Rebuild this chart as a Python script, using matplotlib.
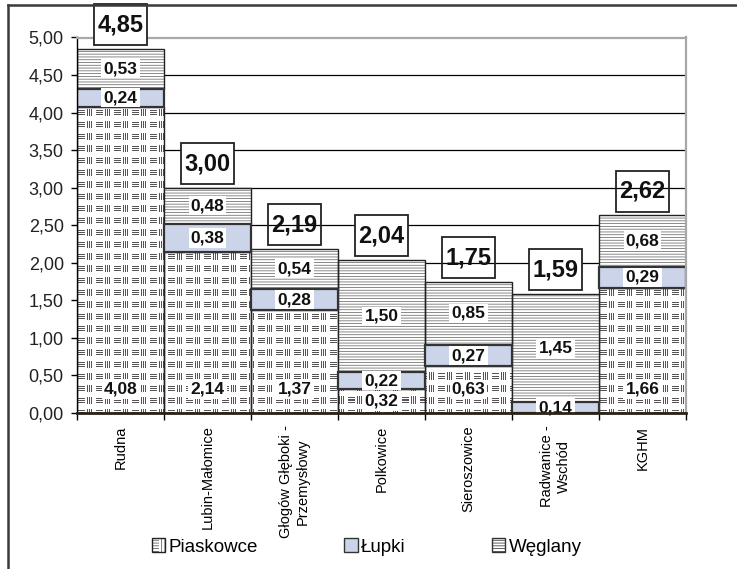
import numpy as np
import matplotlib
matplotlib.use("Agg")
import matplotlib.pyplot as plt
from matplotlib.colors import ListedColormap
from matplotlib.patches import Patch, Rectangle
from matplotlib.lines import Line2D
from matplotlib.legend_handler import HandlerBase
from matplotlib.ticker import FuncFormatter, MultipleLocator

plt.rcParams['font.family'] = ['Liberation Sans', 'DejaVu Sans']
plt.rcParams['hatch.linewidth'] = 0.55

categories = ["Rudna", "Lubin-Małomice", "Głogów Głęboki -\nPrzemysłowy", "Polkowice",
              "Sieroszowice", "Radwanice -\nWschód", "KGHM"]
piaskowce = [4.08, 2.14, 1.37, 0.32, 0.63, 0.00, 1.66]
lupki = [0.24, 0.38, 0.28, 0.22, 0.27, 0.14, 0.29]
weglany = [0.53, 0.48, 0.54, 1.50, 0.85, 1.45, 0.68]
totals = [4.85, 3.00, 2.19, 2.04, 1.75, 1.59, 2.62]
series_names = ["Piaskowce", "Łupki", "Węglany"]

LUPKI_COLOR = "#ccd4ea"
PATTERN_COLOR = "#555555"
# total-value boxes that are opaque (the rest let gridlines show through)
total_box_opaque = [True, True, False, True, False, True, False]


def fmt(v):
    return f"{v:.2f}".replace(".", ",")


W, H = 737, 569
fig = plt.figure(figsize=(W / 100, H / 100), dpi=100)
ax = fig.add_axes([77 / W, (H - 413) / H, 609 / W, 375.5 / H])

n = len(categories)
x = np.arange(n)
ax.set_xlim(-0.5, n - 0.5)
ax.set_ylim(0, 5)

# pixel -> data unit conversion for the axes
bb = ax.get_window_extent()
px_x = n / bb.width
px_y = 5.0 / bb.height

# outer frame of the drawing
fig.add_artist(Line2D([8 / W, 8 / W], [0, 1 - 5 / H], color="#3a3a3a", lw=1.8))
fig.add_artist(Line2D([8 / W, 1], [1 - 5 / H, 1 - 5 / H], color="#3a3a3a", lw=1.8))

# gridlines
for gy in np.arange(0.5, 5.0, 0.5):
    ax.axhline(gy, color="black", lw=0.9, zorder=0.5)

# sandstone weave texture, one texel per output pixel
tw, th = int(round(bb.width)), int(round(bb.height))
tile = np.zeros((12, 18))
tile[[1, 3, 5], 1:8] = 1
tile[0:7, [10, 12, 14]] = 1
texture = np.tile(tile, (th // tile.shape[0] + 1, tw // tile.shape[1] + 1))[:th, :tw]
cmap = ListedColormap(["white", PATTERN_COLOR])

bars_p = ax.bar(x, piaskowce, width=1.0, color="white", edgecolor="none", zorder=2)
for rect in bars_p:
    im = ax.imshow(texture, cmap=cmap, vmin=0, vmax=1, interpolation="nearest",
                   extent=(-0.5, n - 0.5, 0, 5), origin="upper",
                   aspect="auto", zorder=2.1)
    im.set_clip_path(rect)
ax.bar(x, piaskowce, width=1.0, fill=False, edgecolor="#222222", lw=1.0, zorder=2.2)
ax.set_xlim(-0.5, n - 0.5)
ax.set_ylim(0, 5)

bottom_l = np.array(piaskowce)
ax.bar(x, lupki, width=1.0, bottom=bottom_l, color=LUPKI_COLOR, edgecolor="#333333",
       lw=1.6, zorder=2.3)
bottom_w = bottom_l + np.array(lupki)
ax.bar(x, weglany, width=1.0, bottom=bottom_w, color="white", edgecolor="#6a6a6a",
       hatch="------", lw=0, zorder=2.2)
ax.bar(x, weglany, width=1.0, bottom=bottom_w, fill=False, edgecolor="#222222",
       lw=1.0, zorder=2.25)

label_kw = dict(ha="center", va="center", fontsize=12.5, fontweight="bold", zorder=4,
                color="#111111",
                bbox=dict(boxstyle="square,pad=0.12", fc="white", ec="none"))
for i in range(n):
    if piaskowce[i] > 0:
        ax.text(x[i], min(piaskowce[i] / 2, 0.32), fmt(piaskowce[i]), **label_kw)
    ax.text(x[i], bottom_l[i] + lupki[i] / 2, fmt(lupki[i]), **label_kw)
    ax.text(x[i], bottom_w[i] + weglany[i] / 2, fmt(weglany[i]), **label_kw)

    # boxed total above each bar
    top = bottom_w[i] + weglany[i]
    bw, bh, gap = 53 * px_x, 41 * px_y, 3.5 * px_y
    box = Rectangle((x[i] - bw / 2, top + gap), bw, bh,
                    fc="white" if total_box_opaque[i] else "none",
                    ec="#222222", lw=1.3, zorder=4.5, clip_on=False)
    ax.add_patch(box)
    ax.text(x[i], top + gap + bh / 2, fmt(totals[i]), ha="center", va="center",
            fontsize=17, fontweight="bold", color="#111111", zorder=5, clip_on=False)

# axes styling
ax.yaxis.set_major_locator(MultipleLocator(0.5))
ax.yaxis.set_major_formatter(FuncFormatter(lambda v, p: fmt(v)))
ax.tick_params(axis="y", length=4.5, width=1, pad=5, labelsize=13, labelcolor="#222222")
ax.set_xticks(x)
ax.set_xticklabels(categories, rotation=90, fontsize=10.5, multialignment="center")
ax.tick_params(axis="x", which="major", length=0, pad=9)
ax.set_xticks(np.arange(-0.5, n, 1.0), minor=True)
ax.tick_params(axis="x", which="minor", length=5, width=1, direction="out")

ax.spines["left"].set_color("black")
ax.spines["left"].set_linewidth(1.0)
ax.spines["bottom"].set_color("#2b2118")
ax.spines["bottom"].set_linewidth(2.0)
ax.spines["bottom"].set_zorder(4)
for s in ("top", "right"):
    ax.spines[s].set_color("#a8a8a8")
    ax.spines[s].set_linewidth(1.6)


class WeaveHandler(HandlerBase):
    def create_artists(self, legend, orig_handle, xdescent, ydescent, width, height,
                       fontsize, trans):
        left = Rectangle((-xdescent, -ydescent), width * 0.55, height, fc="white",
                         hatch="------", transform=trans)
        left.set_edgecolor(PATTERN_COLOR)
        left.set_linewidth(0)
        right = Rectangle((-xdescent + width * 0.55, -ydescent), width * 0.45, height,
                          fc="white", hatch="|||||", transform=trans)
        right.set_edgecolor(PATTERN_COLOR)
        right.set_linewidth(0)
        frame = Rectangle((-xdescent, -ydescent), width, height, fill=False,
                          ec="#222222", lw=1.0, transform=trans)
        return [left, right, frame]


h_p = Patch(facecolor="white", edgecolor="#222222")
h_l = Patch(facecolor=LUPKI_COLOR, edgecolor="#333333", lw=1.0)
h_w = Patch(facecolor="white", edgecolor="#333333", hatch="------", lw=1.0)
fig.legend([h_p, h_l, h_w], series_names, loc="center",
           bbox_to_anchor=(367 / W, 1 - 547 / H), ncol=3, frameon=False,
           fontsize=13.5, handlelength=0.7, handleheight=0.7, handletextpad=0.2,
           columnspacing=4.6, handler_map={h_p: WeaveHandler()})

fig.savefig("out.png", dpi=100)
